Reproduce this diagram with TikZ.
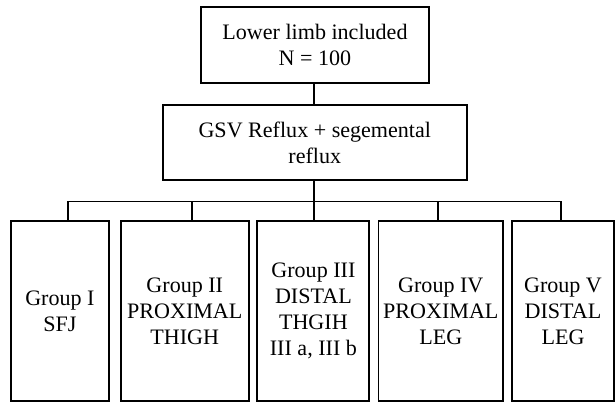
\documentclass[tikz,border=0pt]{standalone}
\usepackage{fontspec}
\setmainfont{Liberation Serif}
\newfontfamily\boxfont{Liberation Serif}
\usepackage{tikz}

\begin{document}
\begin{tikzpicture}[x=1cm,y=1cm,
  flowbox/.style={draw=black,line width=1.3pt,align=center,inner sep=0pt,
    font=\boxfont\fontsize{15.7}{18.6}\selectfont},
  flowline/.style={draw=black,line width=1.3pt}]
\path[use as bounding box] (0,0) rectangle (15.40,10.075);
\node[flowbox,minimum width=5.70cm,minimum height=1.90cm] (limb) at (7.875,8.95) {Lower limb included\\N = 100};
\node[flowbox,minimum width=7.61cm,minimum height=1.89cm] (reflux) at (7.87,6.51) {GSV Reflux + segemental\\reflux};
\node[flowbox,minimum width=2.465cm,minimum height=4.51cm] (grpI) at (1.4975,2.30) {Group I\\SFJ};
\node[flowbox,minimum width=3.19cm,minimum height=4.51cm] (grpII) at (4.62,2.30) {Group II\\PROXIMAL\\THIGH};
\node[flowbox,minimum width=2.80cm,minimum height=4.51cm] (grpIII) at (7.835,2.30) {Group III\\DISTAL\\THGIH\\III a, III b};
\node[flowbox,minimum width=3.115cm,minimum height=4.51cm] (grpIV) at (11.02,2.30) {Group IV\\PROXIMAL\\LEG};
\node[flowbox,minimum width=2.55cm,minimum height=4.51cm] (grpV) at (14.075,2.30) {Group V\\DISTAL\\LEG};
\coordinate (busI) at (1.70,5.0375);
\coordinate (busII) at (4.79,5.0375);
\coordinate (busIII) at (7.85,5.0375);
\coordinate (busIV) at (10.95,5.0375);
\coordinate (busV) at (14.025,5.0375);
\draw[flowline] (limb.south -| busIII) -- (reflux.north -| busIII);
\draw[flowline] (reflux.south -| busIII) -- (busIII);
\draw[flowline,line cap=rect] (busI) -- (busV);
\draw[flowline] (busI) -- (busI |- grpI.north);
\draw[flowline] (busII) -- (busII |- grpII.north);
\draw[flowline] (busIII) -- (busIII |- grpIII.north);
\draw[flowline] (busIV) -- (busIV |- grpIV.north);
\draw[flowline] (busV) -- (busV |- grpV.north);
\end{tikzpicture}
\end{document}
